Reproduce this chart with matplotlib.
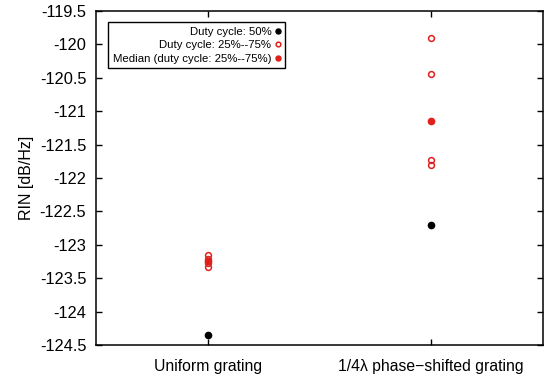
import matplotlib.pyplot as plt

plt.rcParams['font.family'] = ['Liberation Sans', 'DejaVu Sans']

categories = ['Uniform grating', '1/4λ phase−shifted grating']
duty50 = [-124.35, -122.70]
duty_range = [
    [-123.15, -123.21, -123.27, -123.33],
    [-119.90, -120.45, -121.73, -121.80],
]
median = [-123.24, -121.14]
yticks = [-124.5, -124, -123.5, -123, -122.5, -122, -121.5, -121, -120.5, -120, -119.5]

fig = plt.figure(figsize=(5.5, 3.81), dpi=100)
ax = fig.add_axes([96 / 550, 1 - 345 / 381, 447 / 550, 334 / 381])

xs = range(len(categories))
ax.plot(xs, duty50, 'o', color='black', ms=4.5, ls='none', label='Duty cycle: 50%')
ox = [i for i, vals in enumerate(duty_range) for _ in vals]
oy = [v for vals in duty_range for v in vals]
ax.plot(ox, oy, 'o', mfc='none', mec='#e0201b', mew=1.1, ms=4.2, ls='none',
        label='Duty cycle: 25%--75%')
ax.plot(xs, median, 'o', color='#e0201b', ms=4.5, ls='none',
        label='Median (duty cycle: 25%--75%)')

ax.set_xlim(-0.5, 1.5)
ax.set_ylim(-124.5, -119.5)
ax.set_xticks(list(xs))
ax.set_xticklabels(categories, fontsize=11.3)
ax.set_yticks(yticks)
ax.set_yticklabels([f'{t:g}' for t in yticks], fontsize=11.8)
ax.tick_params(direction='in', top=True, right=True, length=4, width=1)
ax.tick_params(axis='x', pad=10)
ax.tick_params(axis='y', pad=7)
ax.set_ylabel('RIN [dB/Hz]', fontsize=11.5, labelpad=4)
for s in ax.spines.values():
    s.set_linewidth(1.1)

leg = ax.legend(loc='upper left', bbox_to_anchor=(0.027, 0.967), fontsize=8.2,
                markerfirst=False, fancybox=False, edgecolor='black',
                framealpha=1, borderpad=0.42, labelspacing=0.3, markerscale=0.8,
                handlelength=0.35, handletextpad=0.4, borderaxespad=0)
leg.get_frame().set_linewidth(1)
for t in leg.get_texts():
    t.set_ha('right')
leg._legend_box.align = 'right'

fig.savefig('out.png')
